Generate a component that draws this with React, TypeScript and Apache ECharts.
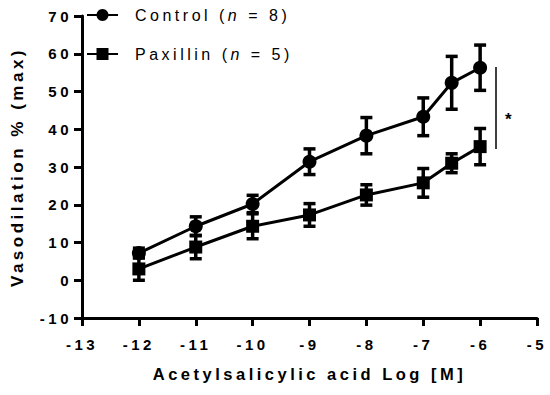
import React, { useEffect, useRef } from "react";
import * as echarts from "echarts";

const xValues = [-12, -11, -10, -9, -8, -7, -6.5, -6];
const controlMean = [7.2, 14.3, 20.2, 31.4, 38.3, 43.3, 52.3, 56.3];
const controlSem = [1.3, 2.5, 2.3, 3.4, 4.8, 5.0, 7.0, 6.0];
const paxMean = [3.0, 8.8, 14.3, 17.3, 22.6, 25.8, 31.0, 35.4];
const paxSem = [3.0, 3.1, 3.3, 3.0, 2.7, 3.8, 2.5, 4.8];
const legendControl = ["Control (", "n", " = 8)"];
const legendPax = ["Paxillin (", "n", " = 5)"];

const FONT = "Liberation Sans, Arial, sans-serif";
const SPACING = 3.5;

function measure(text: string, font: string): number {
  const c = document.createElement("canvas");
  const ctx = c.getContext("2d")!;
  ctx.font = font;
  return ctx.measureText(text).width;
}

export default function App() {
  const ref = useRef<HTMLDivElement>(null);
  useEffect(() => {
    if (!ref.current) return;
    const chart = echarts.init(ref.current, undefined, { renderer: "svg" });
    const pair = (m: number[]) => xValues.map((x, i) => [x, m[i]]);
    const errs = (m: number[], s: number[]) => xValues.map((x, i) => [x, m[i] - s[i], m[i] + s[i]]);
    const errRender = (params: any, api: any) => {
      const x = api.value(0);
      const lo = api.coord([x, api.value(1)]);
      const hi = api.coord([x, api.value(2)]);
      const hw = 6;
      const st = { stroke: "#000", lineWidth: 3.5 };
      return {
        type: "group",
        children: [
          { type: "line", shape: { x1: lo[0], y1: lo[1], x2: hi[0], y2: hi[1] }, style: st },
          { type: "line", shape: { x1: lo[0] - hw, y1: lo[1], x2: lo[0] + hw, y2: lo[1] }, style: st },
          { type: "line", shape: { x1: hi[0] - hw, y1: hi[1], x2: hi[0] + hw, y2: hi[1] }, style: st },
        ],
      };
    };
    const FS = 16;
    const wOf = (t: string, italic: boolean) =>
      measure(t, `${italic ? "italic " : ""}${FS}px ${FONT}`) + t.length * SPACING;
    const makeRich = (parts: string[]) => ({
      a: { fontFamily: FONT, fontSize: FS, color: "#000", width: wOf(parts[0], false) },
      i: { fontFamily: FONT, fontSize: FS, color: "#000", fontStyle: "italic", width: wOf(parts[1], true) },
      b: { fontFamily: FONT, fontSize: FS, color: "#000", width: wOf(parts[2], false) },
    });
    const fmt = (parts: string[]) => `{a|${parts[0]}}{i|${parts[1]}}{b|${parts[2]}}`;
    const legendCommon = {
      orient: "vertical",
      left: 86,
      itemWidth: 31,
      itemHeight: 15,
      padding: 0,
    };
    chart.setOption({
      animation: false,
      backgroundColor: "#fff",
      grid: { left: 82, right: 13, top: 16, bottom: 77 },
      legend: [
        {
          ...legendCommon,
          top: 7,
          data: ["Control"],
          formatter: () => fmt(legendControl),
          textStyle: { fontFamily: FONT, fontSize: FS, color: "#000", padding: [0, 0, 0, 12], rich: makeRich(legendControl) },
        },
        {
          ...legendCommon,
          top: 46,
          data: ["Paxillin"],
          formatter: () => fmt(legendPax),
          textStyle: { fontFamily: FONT, fontSize: FS, color: "#000", padding: [0, 0, 0, 12], rich: makeRich(legendPax) },
        },
      ],
      xAxis: {
        type: "value",
        min: -13,
        max: -5,
        interval: 1,
        name: "Acetylsalicylic acid Log [M]",
        nameLocation: "middle",
        nameGap: 47,
        nameTextStyle: { fontFamily: FONT, fontSize: 16.5, fontWeight: "bold", color: "#000" },
        axisLine: { show: true, onZero: false, lineStyle: { color: "#000", width: 3 } },
        axisTick: { show: true, length: 8, lineStyle: { color: "#000", width: 3 } },
        axisLabel: { fontFamily: FONT, fontSize: 15, fontWeight: "bold", color: "#000", margin: 19 },
        splitLine: { show: false },
      },
      yAxis: {
        type: "value",
        min: -10,
        max: 70,
        interval: 10,
        name: "Vasodilation % (max)",
        nameLocation: "middle",
        nameGap: 56,
        nameTextStyle: { fontFamily: FONT, fontSize: 17, fontWeight: "bold", color: "#000" },
        axisLine: { show: true, onZero: false, lineStyle: { color: "#000", width: 3 } },
        axisTick: { show: true, length: 8, lineStyle: { color: "#000", width: 3 } },
        axisLabel: { fontFamily: FONT, fontSize: 15, fontWeight: "bold", color: "#000", margin: 10 },
        splitLine: { show: false },
      },
      series: [
        {
          name: "Control",
          type: "line",
          data: pair(controlMean),
          symbol: "circle",
          symbolSize: 14,
          lineStyle: { color: "#000", width: 3 },
          itemStyle: { color: "#000" },
          z: 3,
        },
        {
          name: "Paxillin",
          type: "line",
          data: pair(paxMean),
          symbol: "rect",
          symbolSize: 13,
          lineStyle: { color: "#000", width: 3 },
          itemStyle: { color: "#000" },
          z: 3,
        },
        {
          name: "Control SEM",
          type: "custom",
          data: errs(controlMean, controlSem),
          encode: { x: 0, y: [1, 2] },
          renderItem: errRender,
          z: 4,
        },
        {
          name: "Paxillin SEM",
          type: "custom",
          data: errs(paxMean, paxSem),
          encode: { x: 0, y: [1, 2] },
          renderItem: errRender,
          z: 4,
        },
      ],
      graphic: [
        { type: "line", shape: { x1: 496, y1: 67, x2: 496, y2: 149 }, style: { stroke: "#000", lineWidth: 1.5 } },
        {
          type: "text",
          x: 510,
          y: 119,
          style: { text: "*", fontFamily: FONT, fontSize: 17, fontWeight: "bold", fill: "#000", align: "center", verticalAlign: "middle" },
        },
      ],
    });
    return () => chart.dispose();
  }, []);
  return (
    <div
      ref={ref}
      style={{ position: "fixed", left: 0, top: 0, width: 550, height: 395, letterSpacing: `${SPACING}px`, background: "#fff" }}
    />
  );
}
